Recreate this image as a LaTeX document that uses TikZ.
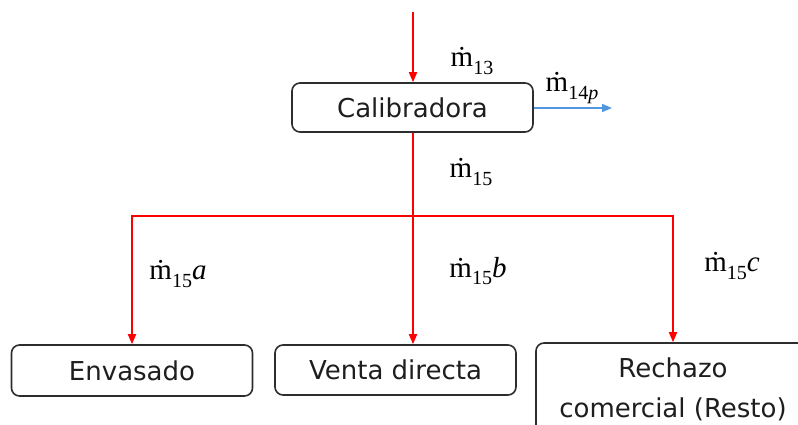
\documentclass[tikz,border=0pt]{standalone}
\usepackage{fontspec}
\setsansfont{DejaVu Sans}
\setmainfont{Liberation Serif}
\usetikzlibrary{arrows.meta,calc}

\definecolor{flowred}{RGB}{255,0,0}
\definecolor{flowblue}{RGB}{80,150,225}
\definecolor{boxline}{RGB}{45,45,45}
\definecolor{boxtext}{RGB}{30,30,30}

% mass flow symbol: m with a dot above, upright subscript, italic suffix
\newcommand\flowsym[2]{\.{m}\raisebox{-0.25em}{\fontsize{20}{20}\selectfont #1\itshape #2}}
\newcommand\flowsyms[2]{\.{m}\raisebox{-0.25em}{\fontsize{20}{20}\selectfont #1}\textit{#2}}

\tikzset{
  unitbox/.style={draw=boxline, line width=1.6pt, rounded corners=8pt,
    fill=white, text=boxtext, inner sep=0pt, align=center,
    font=\sffamily\fontsize{26}{40}\selectfont},
  redflow/.style={draw=flowred, line width=1.7pt,
    -{Triangle[length=10pt,width=8pt]}},
  redline/.style={draw=flowred, line width=1.7pt},
  blueflow/.style={draw=flowblue, line width=1.6pt,
    -{Triangle[length=10pt,width=8pt]}},
  flowlabel/.style={inner sep=0pt, font=\rmfamily\fontsize{29}{30}\selectfont}
}

\begin{document}
\begin{tikzpicture}[x=1pt,y=-1pt]
  \useasboundingbox (0,0) rectangle (798,424);
  \clip (0,0) rectangle (798,424);

  % process units
  \node[unitbox, minimum width=241pt, minimum height=49pt] (cal) at (412.5,107.5) {Calibradora};
  \node[unitbox, minimum width=241pt, minimum height=51pt] (env) at (132,370.5) {Envasado};
  \node[unitbox, minimum width=241pt, minimum height=50pt] (ven) at (395.5,370) {Venta directa};
  \node[unitbox, minimum width=274pt, minimum height=92pt] (rech) at (673,389) {Rechazo\\comercial (Resto)};

  % feed, split point and product stream
  \coordinate (feed) at (413,12);
  \coordinate (split) at (413,216);
  \coordinate (side) at (612,108);

  \draw[redflow] (feed) -- (feed |- cal.north);
  \draw[blueflow] (cal.east |- side) -- (side);
  \draw[redline] (split |- cal.south) -- (split);
  \draw[redflow] (split) -| (env.north);
  \draw[redflow] (split) -- (split |- ven.north);
  \draw[redflow] (split) -| (rech.north);

  % mass flow labels
  \node[flowlabel] (l13)  at (472,61)  {\flowsym{13}{}};
  \node[flowlabel] (l14)  at (572,88)  {\flowsym{14}{p}};
  \node[flowlabel] (l15)  at (471,172) {\flowsym{15}{}};
  \node[flowlabel] (l15a) at (178,274) {\flowsyms{15}{a}};
  \node[flowlabel] (l15b) at (478,271) {\flowsyms{15}{b}};
  \node[flowlabel] (l15c) at (732,266) {\flowsyms{15}{c}};
\end{tikzpicture}
\end{document}
